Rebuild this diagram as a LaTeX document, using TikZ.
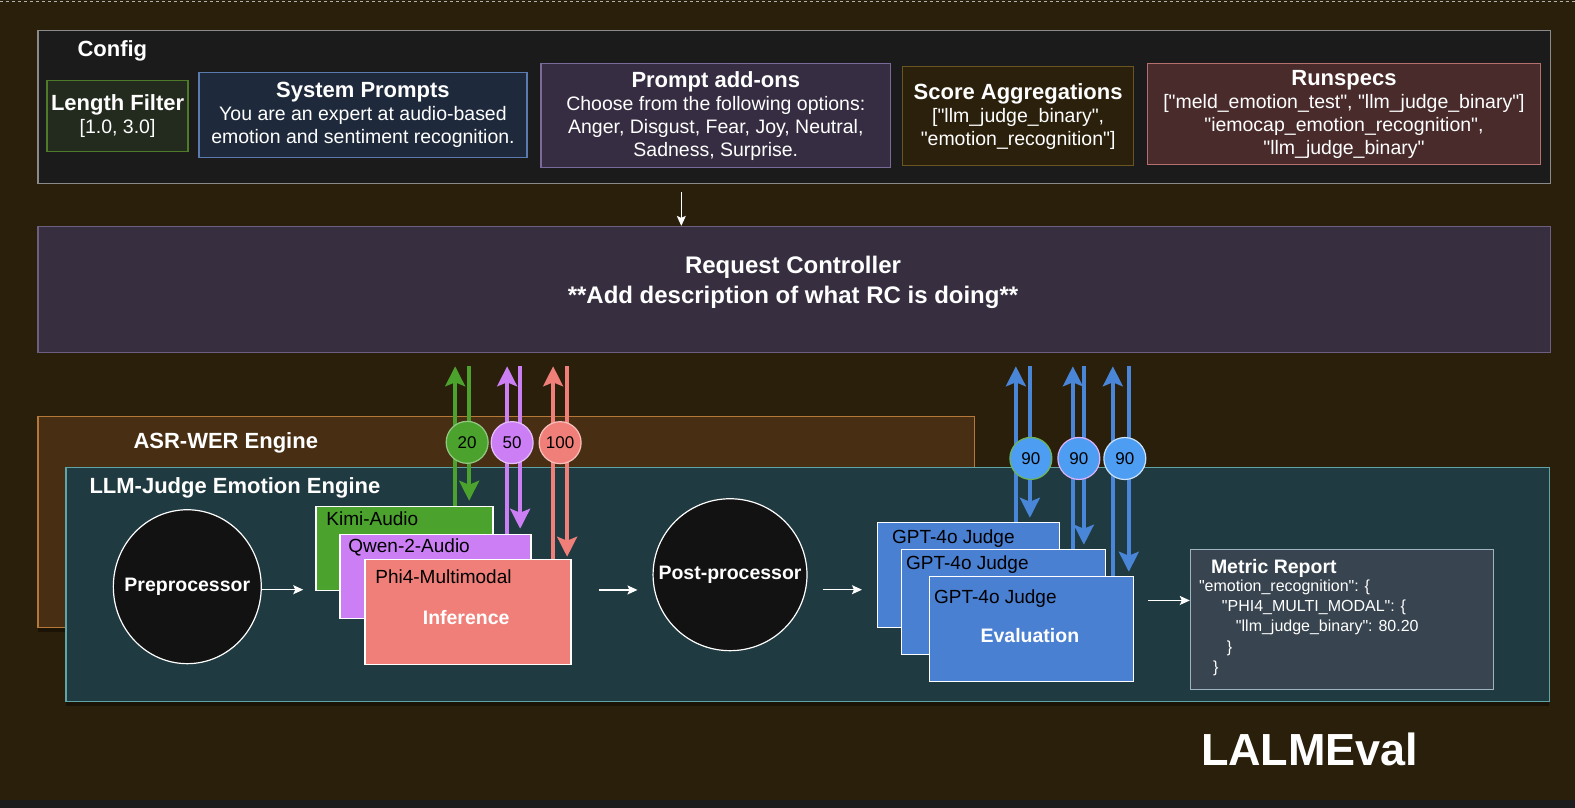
\documentclass[tikz,border=0pt]{standalone}
\usepackage{fontspec}
\setmainfont{Liberation Sans}[Ligatures=TeXOff]
\usetikzlibrary{arrows.meta,shapes.geometric,shadows}

\definecolor{bgc}{HTML}{2A1F0A}
\definecolor{stripc}{HTML}{1C1C1C}
\definecolor{cfgFill}{HTML}{1B1B1B}
\definecolor{cfgLine}{HTML}{8A8A8A}
\definecolor{lenFill}{HTML}{222B1D}
\definecolor{lenLine}{HTML}{4F7A2A}
\definecolor{sysFill}{HTML}{1E2A3C}
\definecolor{sysLine}{HTML}{5B7BAE}
\definecolor{addFill}{HTML}{362D42}
\definecolor{addLine}{HTML}{7A6A9A}
\definecolor{aggFill}{HTML}{2B200B}
\definecolor{aggLine}{HTML}{6B5520}
\definecolor{runFill}{HTML}{4A2B2B}
\definecolor{runLine}{HTML}{B5706E}
\definecolor{rcFill}{HTML}{372F40}
\definecolor{rcLine}{HTML}{6D5E82}
\definecolor{asrFill}{HTML}{482E13}
\definecolor{asrLine}{HTML}{B57838}
\definecolor{llmFill}{HTML}{1F3A40}
\definecolor{llmLine}{HTML}{5FA5A8}
\definecolor{kimiC}{HTML}{4BA32E}
\definecolor{qwenC}{HTML}{CC7FF5}
\definecolor{phiC}{HTML}{F07F79}
\definecolor{gptC}{HTML}{4A80D2}
\definecolor{blueL}{HTML}{4A86D8}
\definecolor{blueN}{HTML}{4D9DF2}
\definecolor{metFill}{HTML}{38444F}
\definecolor{metLine}{HTML}{9FB3C0}

\begin{document}
\begin{tikzpicture}[x=1pt,y=-1pt]
    \fill[bgc] (0,0) rectangle (1575,808);
    \fill[stripc] (0,800) rectangle (1575,808);
    \draw[dashed,gray!60,line width=0.8pt] (0,1) -- (1575,1);
    \useasboundingbox (0,0) rectangle (1575,808);

    \tikzstyle{box}=[draw,line width=1.5pt,inner sep=0pt,anchor=north west,text=white,align=center,font=\fontsize{19.5}{23}\selectfont]
    \tikzstyle{ttl}=[text=white,inner sep=0pt,font=\bfseries\fontsize{22}{26}\selectfont]
    \tikzstyle{model}=[draw=white,line width=1.5pt,inner sep=0pt,anchor=north west]
    \tikzstyle{mlabel}=[anchor=base west,inner sep=0pt,text=black,font=\fontsize{19}{22}\selectfont]
    \tikzstyle{bold}=[text=white,inner sep=0pt,font=\bfseries\fontsize{19.5}{23}\selectfont]
    \tikzstyle{blob}=[ellipse,draw=white,line width=1.2pt,fill=black!93,inner sep=0pt]
    \tikzstyle{flow}=[draw=white,line width=1.3pt,-{Stealth[length=10pt,width=9pt,inset=2pt]}]
    \tikzstyle{lnk}=[line width=3.5pt,-{Stealth[length=20pt,width=20pt,inset=4pt]}]
    \tikzstyle{cnt}=[circle,minimum size=42,inner sep=0pt,line width=1.2pt,text=black,font=\fontsize{17}{20}\selectfont]
    \tikzstyle{shade}=[drop shadow={shadow xshift=0pt,shadow yshift=-5pt,opacity=0.35,fill=black}]

    \node[box,fill=cfgFill,draw=cfgLine,minimum width=1513,minimum height=153] (config) at (37,30) {};
    \node[ttl,anchor=west] (configT) at (77,51) {Config};
    \node[box,fill=lenFill,draw=lenLine,minimum width=141,minimum height=71] (lenf) at (46,80)
        {{\bfseries\fontsize{22}{26}\selectfont Length Filter}\\{[1.0, 3.0]}};
    \node[box,fill=sysFill,draw=sysLine,minimum width=328,minimum height=85] (sysp) at (198,72)
        {{\bfseries\fontsize{22}{26}\selectfont System Prompts}\\You are an expert at audio-based\\emotion and sentiment recognition.};
    \node[box,fill=addFill,draw=addLine,minimum width=350,minimum height=104] (addon) at (540,63)
        {{\bfseries\fontsize{22}{26}\selectfont Prompt add-ons}\\Choose from the following options:\\Anger, Disgust, Fear, Joy, Neutral,\\Sadness, Surprise.};
    \node[box,fill=aggFill,draw=aggLine,minimum width=231,minimum height=99] (aggr) at (902,66)
        {{\bfseries\fontsize{22}{26}\selectfont Score Aggregations}\\{["llm\_judge\_binary",}\\{"emotion\_recognition"]}};
    \node[box,fill=runFill,draw=runLine,minimum width=393,minimum height=101] (runs) at (1147,63)
        {{\bfseries\fontsize{22}{26}\selectfont Runspecs}\\{["meld\_emotion\_test", "llm\_judge\_binary"]}\\{"iemocap\_emotion\_recognition",}\\{"llm\_judge\_binary"}};

    \node[box,fill=rcFill,draw=rcLine,minimum width=1513,minimum height=126] (rc) at (37,226) {};
    \node[text=white,align=center,font=\bfseries\fontsize{24}{30}\selectfont] (rcT) at (793,282)
        {Request Controller\\**Add description of what RC is doing**};
    \draw[flow] ([xshift=-113pt,yshift=-8pt]config.south) -- ([xshift=-113pt]rc.north);

    \node[box,fill=asrFill,draw=asrLine,minimum width=937,minimum height=211,shade] (asr) at (37,416) {};
    \node[ttl,anchor=west] (asrT) at (133,443) {ASR-WER Engine};
    \node[box,fill=llmFill,draw=llmLine,minimum width=1484,minimum height=234,shade] (llm) at (65,467) {};
    \node[ttl,anchor=west] (llmT) at (89,488) {LLM-Judge Emotion Engine};

    \node[blob,minimum width=148,minimum height=154,label={[bold]center:Preprocessor}] (prep) at (187,587) {};
    \node[blob,minimum width=154,minimum height=152,label={[bold]center:Post-processor}] (post) at (730,575) {};

    \node[model,fill=kimiC,minimum width=177,minimum height=84] (kimi) at (315,506) {};
    \node[mlabel] (kimiT) at (326,526) {Kimi-Audio};
    \node[model,fill=qwenC,minimum width=191,minimum height=84] (qwen) at (339,534) {};
    \node[mlabel] (qwenT) at (348,553) {Qwen-2-Audio};
    \node[model,fill=phiC,minimum width=206,minimum height=105] (phi) at (364,559) {};
    \node[mlabel] (phiT) at (375,584) {Phi4-Multimodal};
    \node[bold] (infT) at (466,618) {Inference};

    \node[model,fill=gptC,minimum width=182,minimum height=105] (gpt1) at (877,522) {};
    \node[mlabel] (gpt1T) at (892,544) {GPT-4o Judge};
    \node[model,fill=gptC,minimum width=204,minimum height=105] (gpt2) at (901,549) {};
    \node[mlabel] (gpt2T) at (906,570) {GPT-4o Judge};
    \node[model,fill=gptC,minimum width=204,minimum height=105] (gpt3) at (929,576) {};
    \node[mlabel] (gpt3T) at (934,604) {GPT-4o Judge};
    \node[bold] (evalT) at (1030,636) {Evaluation};

    \node[box,fill=metFill,draw=metLine,minimum width=303,minimum height=140] (met) at (1190,549) {};
    \node[bold,anchor=base west] (metT) at (1211,574) {Metric Report};
    \node[anchor=north west,inner sep=0pt,text=white,align=left,font=\fontsize{16}{20.2}\selectfont] (metJ) at (1199,580)
        {"emotion\_recognition": \{\\
         \hspace*{23pt}"PHI4\_MULTI\_MODAL": \{\\
         \hspace*{37pt}"llm\_judge\_binary": 80.20\\
         \hspace*{28pt}\}\\
         \hspace*{14pt}\}};

    \draw[flow,shorten >=12pt] ([yshift=-3pt]prep.east) -- ([yshift=-3pt]prep.east -| kimi.west);
    \draw[flow,shorten <=27pt,shorten >=15pt] ([yshift=22pt]phi.east) -- ([yshift=22pt]phi.east -| post.west);
    \draw[flow,shorten <=15pt,shorten >=15pt] ([yshift=-15pt]post.east) -- ([yshift=-15pt]post.east -| gpt1.west);
    \draw[flow,shorten <=14pt] ([yshift=19pt]met.west -| gpt3.east) -- ([yshift=19pt]met.west);

    \coordinate (kU) at ([xshift=140pt]kimi.north west);
    \coordinate (kD) at ([xshift=154pt]kimi.north west);
    \coordinate (qU) at ([xshift=168pt]qwen.north west);
    \coordinate (qD) at ([xshift=181pt]qwen.north west);
    \coordinate (pU) at ([xshift=189pt]phi.north west);
    \coordinate (pD) at ([xshift=203pt]phi.north west);
    \coordinate (g1U) at ([xshift=139pt]gpt1.north west);
    \coordinate (g1D) at ([xshift=153pt]gpt1.north west);
    \coordinate (g2U) at ([xshift=172pt]gpt2.north west);
    \coordinate (g2D) at ([xshift=183pt]gpt2.north west);
    \coordinate (g3U) at ([xshift=184pt]gpt3.north west);
    \coordinate (g3D) at ([xshift=200pt]gpt3.north west);

    \draw[lnk,kimiC,shorten >=13pt] (kU) -- (kU |- rc.south);
    \draw[lnk,kimiC,shorten <=13pt,shorten >=5pt] (kD |- rc.south) -- (kD)
        node[cnt,fill=kimiC,draw=kimiC!60!white,pos=.584,xshift=-2pt] (n20) {20};
    \draw[lnk,qwenC,shorten >=13pt] (qU) -- (qU |- rc.south);
    \draw[lnk,qwenC,shorten <=13pt,shorten >=5pt] (qD |- rc.south) -- (qD)
        node[cnt,fill=qwenC,draw=qwenC!50!white,pos=.495,xshift=-8pt] (n50) {50};
    \draw[lnk,phiC,shorten >=13pt] (pU) -- (pU |- rc.south);
    \draw[lnk,phiC,shorten <=13pt,shorten >=2pt] (pD |- rc.south) -- (pD)
        node[cnt,fill=phiC,draw=phiC!50!white,pos=.435,xshift=-7pt] (n100) {100};

    \draw[lnk,blueL,shorten >=13pt] (g1U) -- (g1U |- rc.south);
    \draw[lnk,blueL,shorten <=13pt,shorten >=4pt] (g1D |- rc.south) -- (g1D)
        node[cnt,fill=blueN,draw=kimiC!80!white,pos=.624,xshift=1pt] (n90a) {90};
    \draw[lnk,blueL,shorten >=13pt] (g2U) -- (g2U |- rc.south);
    \draw[lnk,blueL,shorten <=13pt,shorten >=4pt] (g2D |- rc.south) -- (g2D)
        node[cnt,fill=blueN,draw=qwenC!60!white,pos=.538,xshift=-5pt] (n90b) {90};
    \draw[lnk,blueL,shorten >=13pt] (g3U) -- (g3U |- rc.south);
    \draw[lnk,blueL,shorten <=13pt,shorten >=4pt] (g3D |- rc.south) -- (g3D)
        node[cnt,fill=blueN,draw=blueN!30!white,pos=.473,xshift=-4pt] (n90c) {90};

    \node[text=white,font=\bfseries\fontsize{45}{50}\selectfont] (brand) at (1310,750) {LALMEval};
\end{tikzpicture}
\end{document}
